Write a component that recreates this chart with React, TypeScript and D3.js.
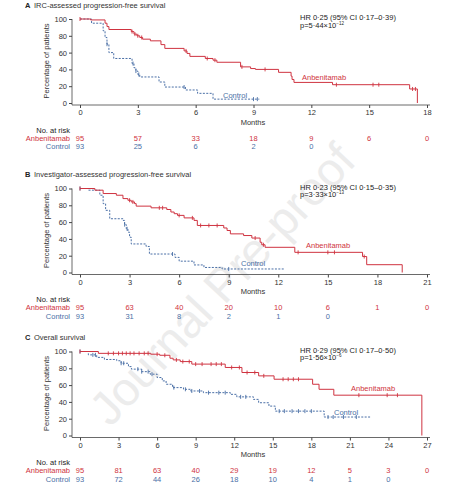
import * as d3 from 'd3'
import { useEffect, useRef } from 'react'

const RED = '#cf3340'
const BLUE = '#4a6fa6'
const AXIS = '#444'

// A: IRC-assessed PFS
const aAnbTimes = [0.55, 1.3, 1.4, 1.5, 2.66, 2.8, 2.95, 3.1, 3.25, 3.65, 4.2, 4.4, 5.4, 5.55, 5.7, 6.5, 6.9, 7.1, 8.33, 8.85, 9.1, 10.3, 10.95, 11.0, 11.1, 13.1, 17.1, 17.5]
const aAnbSurv = [98.9, 95, 91, 87.5, 85, 82, 80, 78, 76, 74, 69.5, 65, 62, 59, 55.5, 53, 51, 48.5, 43, 41, 40, 36.5, 32, 28, 24.5, 21.8, 16.7, 0]
const aAnbCens = [0, 2.7, 2.85, 3.0, 3.2, 5.5, 6.6, 7.0, 8.4, 9.6, 13.3, 15.2, 15.5, 17.25, 17.4]
const aCtrlTimes = [0.6, 1.2, 1.3, 1.4, 1.5, 1.75, 2.7, 2.8, 2.9, 3.0, 3.1, 4.1, 4.4, 5.47, 6.1, 6.9]
const aCtrlSurv = [95, 86, 78, 70, 60, 53, 47, 42, 38, 34, 31, 25, 19, 15.5, 11.5, 4.6]
const aCtrlCens = [1.4, 2.75, 2.9, 3.05, 5.4, 9.0, 9.2]
const aCtrlEnd = 9.3
const aRiskAnb = [95, 57, 33, 18, 9, 6, 0]
const aRiskCtrl = [93, 25, 6, 2, 0]

// B: investigator-assessed PFS
const bAnbTimes = [0.9, 1.4, 2.2, 2.6, 2.9, 3.1, 3.3, 3.4, 4.3, 5.25, 5.5, 5.7, 5.9, 6.3, 6.9, 7.1, 8.7, 8.9, 9.1, 9.9, 10.4, 10.9, 11.0, 11.2, 13.0, 17.1, 17.35, 19.5]
const bAnbSurv = [98, 94, 92, 88, 86, 84, 82, 79, 77, 75, 72, 70, 68, 65, 62, 56, 53, 50, 46, 44, 41, 36, 33, 30, 24, 19, 9.3, 0]
const bAnbCens = [0, 3.0, 3.2, 4.8, 5.0, 6.0, 6.8, 7.3, 7.8, 8.3, 10.6, 11.1, 13.2, 15.0, 15.4, 17.2]
const bCtrlTimes = [0.5, 1.2, 1.4, 1.55, 1.8, 2.6, 2.7, 2.8, 2.9, 3.0, 3.1, 4.0, 4.2, 5.75, 6.0, 6.9, 7.5, 8.6]
const bCtrlSurv = [98, 92, 82, 74, 64, 62, 57, 52, 48, 42, 34, 31, 22, 18, 13.5, 9, 6, 4.2]
const bCtrlCens = [0, 2.7, 2.85, 5.6, 9.0]
const bCtrlEnd = 12.4
const bRiskAnb = [95, 63, 40, 20, 10, 6, 1, 0]
const bRiskCtrl = [93, 31, 8, 2, 1, 0]

// C: overall survival
const cAnbTimes = [1.43, 5.5, 6.2, 7.0, 7.25, 7.8, 8.7, 11.3, 12.6, 13.9, 15.1, 18.1, 18.6, 19.75, 26.6]
const cAnbSurv = [97.8, 96.8, 95.5, 92, 90, 88, 85, 81, 75, 71, 67, 61, 55, 48, 0]
const cAnbCens = [0, 2.2, 2.6, 3.0, 3.3, 3.6, 3.9, 4.2, 4.6, 5.0, 5.3, 6.0, 6.6, 7.5, 8.0, 8.5, 9.0, 9.5, 10.2, 10.6, 11.0, 11.8, 12.4, 13.0, 13.6, 14.3, 15.8, 16.2, 16.6, 17.0, 21.7, 23.9, 24.7]
const cCtrlTimes = [0.65, 1.3, 1.9, 2.86, 3.2, 3.77, 4.0, 4.8, 5.46, 6.0, 6.4, 6.7, 7.2, 8.05, 8.6, 9.6, 11.7, 12.2, 13.5, 13.9, 14.7, 15.2, 19.0]
const cCtrlSurv = [96, 93, 90.5, 89, 86, 82, 79, 76, 73, 69, 65, 61, 57, 55, 53, 51, 49, 46, 43, 39, 35, 29, 22]
const cCtrlCens = [0, 1.0, 1.2, 3.2, 3.4, 4.5, 4.8, 5.3, 5.6, 7.3, 8.2, 8.7, 9.3, 10.0, 10.8, 11.3, 12.5, 12.9, 15.5, 15.9, 16.5, 17.0, 17.5, 18.0, 19.3, 19.7, 20.5, 21.5]
const cCtrlEnd = 22.6
const cRiskAnb = [95, 81, 63, 40, 29, 19, 12, 5, 3, 0]
const cRiskCtrl = [93, 72, 44, 26, 18, 10, 4, 1, 0]

type Panel = {
  letter: string
  title: string
  hr: string
  pBase: string
  pExp: string
  maxMonth: number
  y0: number
  anbTimes: number[]
  anbSurv: number[]
  anbCens: number[]
  ctrlTimes: number[]
  ctrlSurv: number[]
  ctrlCens: number[]
  ctrlEnd: number
  riskAnb: number[]
  riskCtrl: number[]
  anbLabel: [number, number]
  ctrlLabel: [number, number]
}

const panels: Panel[] = [
  {
    letter: 'A', title: 'IRC-assessed progression-free survival',
    hr: 'HR 0·25 (95% CI 0·17–0·39)', pBase: 'p=5·44×10', pExp: '−12',
    maxMonth: 18, y0: 103,
    anbTimes: aAnbTimes, anbSurv: aAnbSurv, anbCens: aAnbCens,
    ctrlTimes: aCtrlTimes, ctrlSurv: aCtrlSurv, ctrlCens: aCtrlCens, ctrlEnd: aCtrlEnd,
    riskAnb: aRiskAnb, riskCtrl: aRiskCtrl,
    anbLabel: [302, 80], ctrlLabel: [223, 98],
  },
  {
    letter: 'B', title: 'Investigator-assessed progression-free survival',
    hr: 'HR 0·23 (95% CI 0·15–0·35)', pBase: 'p=3·33×10', pExp: '−13',
    maxMonth: 21, y0: 272.5,
    anbTimes: bAnbTimes, anbSurv: bAnbSurv, anbCens: bAnbCens,
    ctrlTimes: bCtrlTimes, ctrlSurv: bCtrlSurv, ctrlCens: bCtrlCens, ctrlEnd: bCtrlEnd,
    riskAnb: bRiskAnb, riskCtrl: bRiskCtrl,
    anbLabel: [306, 248], ctrlLabel: [241, 266],
  },
  {
    letter: 'C', title: 'Overall survival',
    hr: 'HR 0·29 (95% CI 0·17–0·50)', pBase: 'p=1·56×10', pExp: '−6',
    maxMonth: 27, y0: 435.5,
    anbTimes: cAnbTimes, anbSurv: cAnbSurv, anbCens: cAnbCens,
    ctrlTimes: cCtrlTimes, ctrlSurv: cCtrlSurv, ctrlCens: cCtrlCens, ctrlEnd: cCtrlEnd,
    riskAnb: cRiskAnb, riskCtrl: cRiskCtrl,
    anbLabel: [351, 390.5], ctrlLabel: [334, 415],
  },
]

function survAt(times: number[], surv: number[], t: number) {
  let s = 100
  for (let i = 0; i < times.length; i++) {
    if (times[i] <= t) s = surv[i]
  }
  return s
}

function stepPoints(times: number[], surv: number[], end: number | null) {
  const pts: [number, number][] = [[0, 100]]
  times.forEach((t, i) => pts.push([t, surv[i]]))
  if (end !== null) pts.push([end, surv[surv.length - 1]])
  return pts
}

function drawPanel(svg: any, p: Panel) {
  const g = svg.append('g').style('font-family', '"Liberation Sans", Arial, sans-serif').style('font-size', '7.5px')
  const x = d3.scaleLinear().domain([0, p.maxMonth]).range([80, 427])
  const y = d3.scaleLinear().domain([0, 100]).range([p.y0, p.y0 - 84])
  const axisY = p.y0 + 2
  const top = y(100) - 6

  // titles
  g.append('text').attr('x', 25).attr('y', top - 5.5).attr('font-weight', 'bold').attr('fill', '#222').text(p.letter)
  g.append('text').attr('x', 34).attr('y', top - 5.5).attr('fill', '#333').text(p.title)
  g.append('text').attr('x', 300).attr('y', top + 7).attr('fill', '#222').text(p.hr)
  const pt = g.append('text').attr('x', 300).attr('y', top + 14.5).attr('fill', '#222').text(p.pBase)
  pt.append('tspan').attr('dy', -2.6).style('font-size', '4.5px').text(p.pExp)

  // axes
  const yAxis = d3.axisLeft(y).tickValues([0, 20, 40, 60, 80, 100]).tickSize(3).tickPadding(2).tickSizeOuter(0)
  const yg = g.append('g').attr('transform', 'translate(72,0)').call(yAxis)
  const xAxis = d3.axisBottom(x).tickValues(d3.range(0, p.maxMonth + 1, 3)).tickSize(3).tickPadding(2).tickSizeOuter(0)
  const xg = g.append('g').attr('transform', `translate(0,${axisY})`).call(xAxis)
  ;[yg, xg].forEach((a: any) => {
    a.select('.domain').remove()
    a.selectAll('line').attr('stroke', AXIS)
    a.selectAll('text').attr('fill', '#333').style('font-size', '7.5px').style('font-family', '"Liberation Sans", Arial, sans-serif')
  })
  g.append('path')
    .attr('d', `M72,${y(100)}V${axisY}H430`)
    .attr('fill', 'none').attr('stroke', AXIS).attr('stroke-width', 0.8)

  g.append('text').attr('x', 253).attr('y', p.y0 + 21.5).attr('text-anchor', 'middle').attr('fill', '#333').text('Months')
  g.append('text')
    .attr('transform', `translate(49,${(y(0) + y(100)) / 2}) rotate(-90)`)
    .attr('text-anchor', 'middle').attr('fill', '#333').text('Percentage of patients')

  // curves
  const line = d3.line<[number, number]>().x(d => x(d[0])).y(d => y(d[1])).curve(d3.curveStepAfter)
  g.append('path')
    .attr('d', line(stepPoints(p.ctrlTimes, p.ctrlSurv, p.ctrlEnd)))
    .attr('fill', 'none').attr('stroke', BLUE).attr('stroke-width', 1).attr('stroke-dasharray', '2,1.4')
  g.append('path')
    .attr('d', line(stepPoints(p.anbTimes, p.anbSurv, null)))
    .attr('fill', 'none').attr('stroke', RED).attr('stroke-width', 1)

  const marks = (cens: number[], times: number[], surv: number[], color: string) => {
    g.append('g').selectAll('line').data(cens).join('line')
      .attr('x1', (d: number) => x(d)).attr('x2', (d: number) => x(d))
      .attr('y1', (d: number) => y(survAt(times, surv, d)) - 2)
      .attr('y2', (d: number) => y(survAt(times, surv, d)) + 2)
      .attr('stroke', color).attr('stroke-width', 0.9)
  }
  marks(p.ctrlCens, p.ctrlTimes, p.ctrlSurv, BLUE)
  marks(p.anbCens, p.anbTimes, p.anbSurv, RED)

  g.append('text').attr('x', p.anbLabel[0]).attr('y', p.anbLabel[1]).attr('fill', RED).text('Anbenitamab')
  g.append('text').attr('x', p.ctrlLabel[0]).attr('y', p.ctrlLabel[1]).attr('fill', BLUE).text('Control')

  // numbers at risk
  g.append('text').attr('x', 70).attr('y', p.y0 + 29.5).attr('text-anchor', 'end').attr('fill', '#222').text('No. at risk')
  g.append('text').attr('x', 70).attr('y', p.y0 + 37.8).attr('text-anchor', 'end').attr('fill', RED).text('Anbenitamab')
  g.append('text').attr('x', 70).attr('y', p.y0 + 46).attr('text-anchor', 'end').attr('fill', BLUE).text('Control')
  g.append('g').selectAll('text').data(p.riskAnb).join('text')
    .attr('x', (_d: number, i: number) => x(i * 3)).attr('y', p.y0 + 37.8)
    .attr('text-anchor', 'middle').attr('fill', RED).text((d: number) => d)
  g.append('g').selectAll('text').data(p.riskCtrl).join('text')
    .attr('x', (_d: number, i: number) => x(i * 3)).attr('y', p.y0 + 46)
    .attr('text-anchor', 'middle').attr('fill', BLUE).text((d: number) => d)
}

export default function App() {
  const svgRef = useRef<SVGSVGElement>(null)

  useEffect(() => {
    const svg = d3.select(svgRef.current)
    svg.selectAll('*').remove()
    svg.append('rect').attr('width', 451).attr('height', 500).attr('fill', '#fff')
    svg.append('text')
      .attr('transform', 'translate(222,284) rotate(-47)')
      .attr('text-anchor', 'middle').attr('dominant-baseline', 'central')
      .style('font-family', '"Liberation Sans", Arial, sans-serif').style('font-size', '47px')
      .attr('fill', '#e2e2e2').attr('opacity', 0.65)
      .text('Journal Pre-proof')
    panels.forEach(p => drawPanel(svg, p))
  }, [])

  return (
    <svg ref={svgRef} width={451} height={500} style={{ position: 'absolute', left: 0, top: 0 }} />
  )
}
